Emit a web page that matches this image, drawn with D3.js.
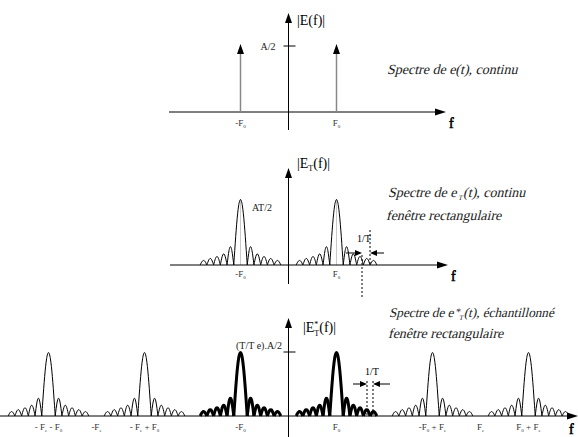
<!DOCTYPE html>
<html><head><meta charset="utf-8">
<script src="https://cdn.jsdelivr.net/npm/d3@7"></script>
<style>body{margin:0;background:#fff}svg{display:block}</style>
</head><body>
<svg id="c" width="578" height="437"></svg>
<script>
// ---- data ----
const lineFreqs = [-1, 1];                 // spectral lines of e(t) at ±F0
const lineAmp = 1;                          // A/2 (normalised)
const invT = 0.14;                          // 1/T in units of F0
const sideLobes = [0.28, 0.17, 0.13, 0.1, 0.07]; // relative side-lobe heights
const panel2Centers = [-1, 1];
const panel3Centers = [-5, -3, -1, 1, 3, 5];
const panel3Thick = [-1, 1];
const labels1 = [{f:-1, t:["-F","0"]}, {f:1, t:["F","0"]}];
const labels2 = [{f:-1, t:["-F","0"]}, {f:1, t:["F","0"]}];
const labels3 = [
  {f:-5, t:["- F","e"," - F","0"]},
  {f:-4, t:["-F","e"]},
  {f:-3, t:["- F","e"," + F","0"]},
  {f:-1, t:["-F","0"]},
  {f:1,  t:["F","0"]},
  {f:3,  t:["-F","0"," + F","e"]},
  {f:4,  t:["F","e"]},
  {f:5,  t:["F","0"," + F","e"]}
];

// ---- scales ----
const x = d3.scaleLinear().domain([-6, 6]).range([288.5 - 288, 288.5 + 288]);
const y1 = d3.scaleLinear().domain([0, 1]).range([112, 46]);
const y2 = d3.scaleLinear().domain([0, 1]).range([265, 199]);
const y3 = d3.scaleLinear().domain([0, 1]).range([416, 352]);

const svg = d3.select("#c");
const serif = "Liberation Serif, DejaVu Serif, serif";

function arrowUp(g, cx, tipY) {
  g.append("path").attr("d", `M${cx},${tipY} L${cx-3.5},${tipY+10} L${cx+3.5},${tipY+10} Z`).attr("fill", "#000");
}
function arrowRight(g, tipX, cy, len=11, hw=3.5) {
  g.append("path").attr("d", `M${tipX},${cy} L${tipX-len},${cy-hw} L${tipX-len},${cy+hw} Z`).attr("fill", "#000");
}
function arrowLeft(g, tipX, cy, len=8, hw=3) {
  g.append("path").attr("d", `M${tipX},${cy} L${tipX+len},${cy-hw} L${tipX+len},${cy+hw} Z`).attr("fill", "#000");
}

function sub(textSel, parts, mainSize, subSize) {
  parts.forEach((p, i) => {
    const isSub = i % 2 === 1;
    textSel.append("tspan").text(p)
      .attr("font-size", isSub ? subSize : mainSize)
      .attr("dy", isSub ? 2 : (i > 0 ? -2 : 0));
  });
}

function freqLabels(g, arr, yPos) {
  arr.forEach(d => {
    const t = g.append("text").attr("x", x(d.f)).attr("y", yPos)
      .attr("text-anchor", "middle").attr("font-family", serif).attr("fill", "#333");
    sub(t, d.t, 9, 5);
  });
}

function spectrum(g, center, ys, width, color) {
  const line = d3.line().x(d => x(d[0])).y(d => ys(d[1])).curve(d3.curveBasis);
  const N = 14;
  const main = d3.range(N + 1).map(i => {
    const u = -1 + 2 * i / N;
    return [center + u * invT, Math.cos(Math.PI * u / 2)];
  });
  g.append("path").attr("d", line(main)).attr("fill", "none").attr("stroke", color).attr("stroke-width", width);
  [-1, 1].forEach(s => {
    sideLobes.forEach((h, k) => {
      const pts = d3.range(N + 1).map(i => {
        const t = i / N;
        return [center + s * (k + 1 + t) * invT, h * Math.sin(Math.PI * t)];
      });
      g.append("path").attr("d", line(pts)).attr("fill", "none").attr("stroke", color).attr("stroke-width", width);
    });
  });
}

// slanted serif text (regular face skewed)
function italicText(g, xp, yp, parts, size = 14) {
  const t = g.append("text").attr("transform", `translate(${xp},${yp}) skewX(-14)`)
    .attr("font-family", serif).attr("font-size", size).attr("fill", "#222");
  parts.forEach(p => {
    const s = t.append("tspan").text(p.s);
    if (p.size) s.attr("font-size", p.size);
    if (p.dy) s.attr("dy", p.dy);
    if (p.dx) s.attr("dx", p.dx);
  });
}
function fLabel(g, xp, yp) {
  g.append("text").attr("x", xp).attr("y", yp).attr("font-family", serif).attr("font-size", 14)
    .attr("stroke", "#000").attr("stroke-width", 0.6).text("f");
}

// ================= Panel 1 =================
const p1 = svg.append("g");
p1.append("line").attr("x1", 169).attr("x2", 436).attr("y1", y1(0)).attr("y2", y1(0)).attr("stroke", "#000");
arrowRight(p1, 446, y1(0));
p1.append("line").attr("x1", x(0)).attr("x2", x(0)).attr("y1", 22).attr("y2", 130).attr("stroke", "#000");
arrowUp(p1, x(0), 13);
lineFreqs.forEach(f => {
  p1.append("line").attr("x1", x(f)).attr("x2", x(f)).attr("y1", y1(0)).attr("y2", y1(lineAmp) + 6)
    .attr("stroke", "#888").attr("stroke-width", 1.5);
  arrowUp(p1, x(f), y1(lineAmp) - 2);
});
p1.append("line").attr("x1", x(0) - 5).attr("x2", x(0) + 7).attr("y1", y1(lineAmp)).attr("y2", y1(lineAmp)).attr("stroke", "#000");
p1.append("text").attr("x", 268).attr("y", 50).attr("text-anchor", "middle").attr("font-family", serif).attr("font-size", 10).attr("fill", "#222").text("A/2");
p1.append("text").attr("x", 297).attr("y", 25).attr("font-family", serif).attr("font-size", 14).text("|E(f)|");
freqLabels(p1, labels1, 126);
fLabel(p1, 449, 128);
italicText(p1, 387, 74, [{s:"Spectre de e(t), continu"}]);

// ================= Panel 2 =================
const p2 = svg.append("g");
panel2Centers.forEach(c => {
  p2.append("line").attr("x1", x(c)).attr("x2", x(c)).attr("y1", y2(0)).attr("y2", y2(1)).attr("stroke", "#bbb").attr("stroke-width", 0.8);
  spectrum(p2, c, y2, 1, "#000");
});
p2.append("line").attr("x1", 170).attr("x2", 438).attr("y1", y2(0)).attr("y2", y2(0)).attr("stroke", "#000");
arrowRight(p2, 448, y2(0));
p2.append("line").attr("x1", x(0)).attr("x2", x(0)).attr("y1", 176).attr("y2", 284).attr("stroke", "#000");
arrowUp(p2, x(0), 168);
p2.append("text").attr("x", 252).attr("y", 211).attr("font-family", serif).attr("font-size", 10).attr("fill", "#222").text("AT/2");
{
  const t = p2.append("text").attr("x", 297).attr("y", 168).attr("font-family", serif).attr("font-size", 14);
  t.append("tspan").text("|E");
  t.append("tspan").text("T").attr("font-size", 8).attr("dy", 3);
  t.append("tspan").text("(f)|").attr("dy", -3);
}
freqLabels(p2, labels2, 277);
fLabel(p2, 451, 281);
p2.append("line").attr("x1", 362).attr("x2", 362).attr("y1", 255).attr("y2", 298).attr("stroke", "#000").attr("stroke-dasharray", "2,2");
p2.append("line").attr("x1", 370).attr("x2", 370).attr("y1", 230).attr("y2", 265).attr("stroke", "#000").attr("stroke-dasharray", "2,2");
p2.append("line").attr("x1", 346).attr("x2", 356).attr("y1", 253).attr("y2", 253).attr("stroke", "#000");
arrowRight(p2, 362, 253, 7, 3);
p2.append("line").attr("x1", 376).attr("x2", 384).attr("y1", 253).attr("y2", 253).attr("stroke", "#000");
arrowLeft(p2, 370, 253, 7, 3);
p2.append("text").attr("x", 364).attr("y", 242).attr("text-anchor", "middle").attr("font-family", serif).attr("font-size", 10).text("1/T");
italicText(p2, 388, 197, [{s:"Spectre de e "}, {s:"T", size:7, dy:3, dx:-1}, {s:"(t), continu", dy:-3}]);
italicText(p2, 386, 220, [{s:"fenêtre rectangulaire"}]);

// ================= Panel 3 =================
const p3 = svg.append("g");
panel3Centers.forEach(c => {
  const thick = panel3Thick.includes(c);
  spectrum(p3, c, y3, thick ? 3 : 1, "#000");
});
p3.append("line").attr("x1", 0).attr("x2", 568).attr("y1", y3(0)).attr("y2", y3(0)).attr("stroke", "#000");
arrowRight(p3, 578, y3(0));
p3.append("line").attr("x1", x(0)).attr("x2", x(0)).attr("y1", 326).attr("y2", 437).attr("stroke", "#000");
arrowUp(p3, x(0), 318);
p3.append("line").attr("x1", x(0) - 5).attr("x2", x(0) + 7).attr("y1", y3(1)).attr("y2", y3(1)).attr("stroke", "#000");
p3.append("text").attr("x", 259).attr("y", 349).attr("text-anchor", "middle").attr("font-family", serif).attr("font-size", 10).attr("fill", "#222").text("(T/T e).A/2");
{
  const t = p3.append("text").attr("x", 303).attr("y", 332).attr("font-family", serif).attr("font-size", 14);
  t.append("tspan").text("|E");
  t.append("tspan").text("*").attr("font-size", 8).attr("dy", -5);
  t.append("tspan").text("T").attr("font-size", 8).attr("dx", -4).attr("dy", 9);
  t.append("tspan").text("(f)|").attr("dy", -4);
}
freqLabels(p3, labels3, 430);
fLabel(p3, 569, 434);
p3.append("line").attr("x1", 367).attr("x2", 367).attr("y1", 381).attr("y2", 416).attr("stroke", "#000").attr("stroke-dasharray", "2,2");
p3.append("line").attr("x1", 373).attr("x2", 373).attr("y1", 381).attr("y2", 416).attr("stroke", "#000").attr("stroke-dasharray", "2,2");
p3.append("line").attr("x1", 353).attr("x2", 361).attr("y1", 384).attr("y2", 384).attr("stroke", "#000");
arrowRight(p3, 367, 384, 7, 3);
p3.append("line").attr("x1", 379).attr("x2", 390).attr("y1", 384).attr("y2", 384).attr("stroke", "#000");
arrowLeft(p3, 373, 384, 7, 3);
p3.append("text").attr("x", 372).attr("y", 375).attr("text-anchor", "middle").attr("font-family", serif).attr("font-size", 10).text("1/T");
italicText(p3, 389, 317, [{s:"Spectre de e"}, {s:"*", size:10, dy:-2, dx:1}, {s:"T", size:7, dy:5}, {s:"(t), échantillonné", dy:-3}], 13.2);
italicText(p3, 388, 338, [{s:"fenêtre rectangulaire"}]);
</script>
</body></html>
